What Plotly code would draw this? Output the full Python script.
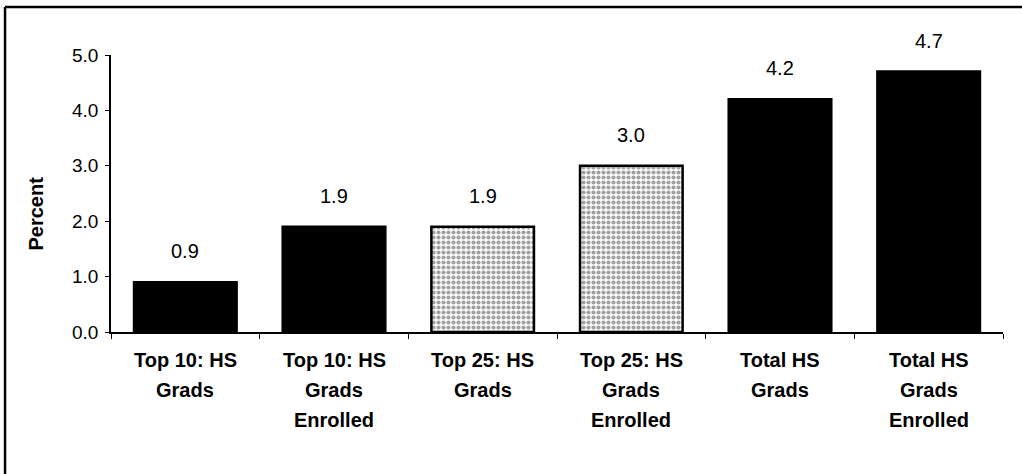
import plotly.graph_objects as go

# Data
categories = [
    "Top 10: HS<br>Grads",
    "Top 10: HS<br>Grads<br>Enrolled",
    "Top 25: HS<br>Grads",
    "Top 25: HS<br>Grads<br>Enrolled",
    "Total HS<br>Grads",
    "Total HS<br>Grads<br>Enrolled",
]
values = [0.9, 1.9, 1.9, 3.0, 4.2, 4.7]
patterned = [False, False, True, True, False, False]
y_ticks = [0.0, 1.0, 2.0, 3.0, 4.0, 5.0]

FONT = "Arial, Liberation Sans, sans-serif"

fig = go.Figure(go.Bar(
    x=categories,
    y=values,
    marker=dict(
        color=["white" if p else "black" for p in patterned],
        line=dict(color="black", width=2.5),
        pattern=dict(
            shape=["." if p else "" for p in patterned],
            fgcolor="#333333",
            bgcolor="white",
            size=5,
            solidity=0.55,
        ),
    ),
    showlegend=False,
))

# value labels above bars
for cat, v in zip(categories, values):
    fig.add_annotation(
        x=cat, y=v, text=f"{v:.1f}", showarrow=False,
        yanchor="middle", yshift=31,
        font=dict(size=20, color="black", family=FONT),
    )

# category labels, one annotation per line to get the wide line spacing
for cat in categories:
    for i, line in enumerate(cat.split("<br>")):
        fig.add_annotation(
            x=cat, xref="x", y=0, yref="paper", text=f"<b>{line}</b>",
            showarrow=False, yanchor="middle", yshift=-(28 + 30 * i),
            font=dict(size=20, color="black", family=FONT),
        )

# y title
fig.add_annotation(
    x=0, xref="paper", y=0.5, yref="paper", xshift=-76, yshift=-20,
    xanchor="center", yanchor="middle",
    text="<b>Percent</b>", textangle=-90, showarrow=False,
    font=dict(size=20, color="black", family=FONT),
)

# outer frame (left and top edges visible)
fig.add_shape(type="line", xref="paper", yref="paper",
              x0=-0.1188, x1=-0.1188, y0=-0.6, y1=1.173,
              line=dict(color="black", width=2.5))
fig.add_shape(type="line", xref="paper", yref="paper",
              x0=-0.1188, x1=1.05, y0=1.173, y1=1.173,
              line=dict(color="black", width=2.5))

fig.update_layout(
    width=1022, height=474,
    margin=dict(l=111, r=19, t=55, b=142),
    paper_bgcolor="white", plot_bgcolor="white",
    bargap=0.31,
    font=dict(family=FONT, color="black", size=19),
    xaxis=dict(
        showticklabels=False, showline=True, linecolor="black", linewidth=1.5,
        ticks="outside", tickson="boundaries", ticklen=5, tickcolor="black",
        showgrid=False, zeroline=False,
    ),
    yaxis=dict(
        range=[0, 5], tickvals=y_ticks, tickformat=".1f",
        showline=True, linecolor="black", linewidth=1.5,
        ticks="outside", ticklen=4, tickcolor="black", ticklabelstandoff=3,
        showgrid=False, zeroline=False,
        tickfont=dict(size=19, family=FONT),
    ),
)

# drop the default body margin so the figure sits at the window corner
fig.write_html(
    "out.html",
    config={"displayModeBar": False},
    post_script="document.body.style.margin='0';",
)
